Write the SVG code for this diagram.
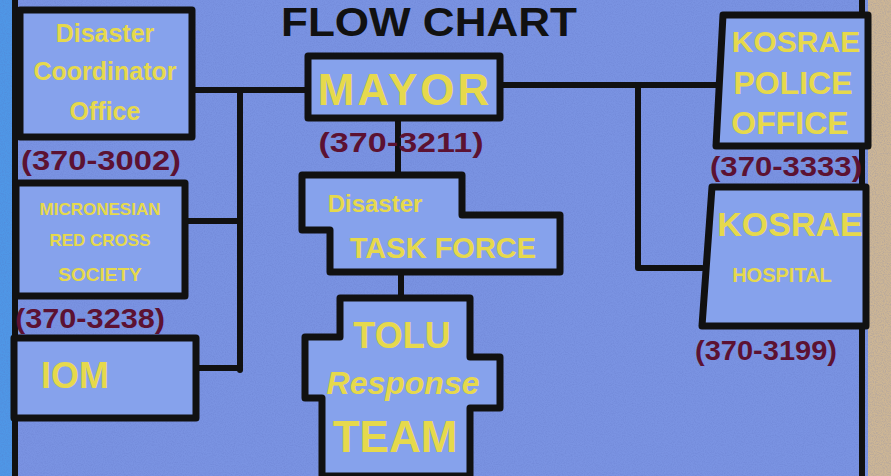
<svg xmlns="http://www.w3.org/2000/svg" width="891" height="476" viewBox="0 0 891 476">
<style>
.box{fill:#86a2ec;stroke:#111;stroke-width:7;stroke-linejoin:round}
.ln{fill:none;stroke:#111;stroke-width:6;stroke-linecap:round;stroke-linejoin:round}
.t{fill:#e6d94c;font-family:"Liberation Sans",Arial,sans-serif;font-weight:bold;text-anchor:middle}
.p{fill:#5c1232;font-family:"Liberation Sans",Arial,sans-serif;font-weight:bold;text-anchor:middle;font-size:27px}
.title{fill:#111;font-family:"Liberation Sans",Arial,sans-serif;font-weight:bold;font-size:40px;text-anchor:middle}
</style>
<defs>
<filter id="noise" x="0" y="0" width="100%" height="100%">
<feTurbulence type="fractalNoise" baseFrequency="0.9" numOctaves="2" seed="3"/>
<feColorMatrix type="matrix" values="0 0 0 0 0.1  0 0 0 0 0.15  0 0 0 0 0.5  0 0 0 -1.2 0.75"/>
</filter>
</defs>
<rect width="891" height="476" fill="#7a93e2"/>
<rect x="0" y="0" width="13" height="476" fill="#4f97e6"/>
<rect x="868" y="0" width="23" height="476" fill="#cdb695"/>
<rect width="891" height="476" filter="url(#noise)" opacity="0.35"/>
<text class="title" x="429" y="36" textLength="296" lengthAdjust="spacingAndGlyphs">FLOW CHART</text>
<path class="ln" d="M15 0 V476"/>
<path class="ln" d="M862 0 V476"/>
<g id="connectors">
<path class="ln" d="M192 90 H310"/>
<path class="ln" d="M240 90 V370"/>
<path class="ln" d="M186 221 H240"/>
<path class="ln" d="M196 368 H240"/>
<path class="ln" d="M398 118 V173"/>
<path class="ln" d="M401 270 V298"/>
<path class="ln" d="M500 85 H718"/>
<path class="ln" d="M638 85 V268 H702"/>
</g>
<g id="coordinator">
<path class="box" d="M20 10 H192 V137 H20 Z"/>
<text class="t" x="105" y="42" font-size="25">Disaster</text>
<text class="t" x="105" y="80" font-size="25">Coordinator</text>
<text class="t" x="105" y="120" font-size="25">Office</text>
<text class="p" x="101" y="170" textLength="160" lengthAdjust="spacingAndGlyphs">(370-3002)</text>
</g>
<g id="redcross">
<path class="box" d="M16 183 H185 V296 H16 Z"/>
<text class="t" x="100" y="215" font-size="17">MICRONESIAN</text>
<text class="t" x="100" y="246" font-size="17">RED CROSS</text>
<text class="t" x="100" y="281" font-size="19">SOCIETY</text>
<text class="p" x="90" y="328" textLength="150" lengthAdjust="spacingAndGlyphs">(370-3238)</text>
</g>
<g id="iom">
<path class="box" d="M14 338 H196 V418 H14 Z"/>
<text class="t" x="75" y="388" font-size="36">IOM</text>
</g>
<g id="mayor">
<path class="box" d="M308 56 H500 V118 H308 Z"/>
<text class="t" x="405" y="105" font-size="44" letter-spacing="3">MAYOR</text>
<text class="p" x="401" y="152" textLength="165" lengthAdjust="spacingAndGlyphs">(370-3211)</text>
</g>
<g id="taskforce">
<path class="box" d="M302 175 H462 V215 H560 V272 H330 V230 H302 Z"/>
<text class="t" x="375" y="212" font-size="24">Disaster</text>
<text class="t" x="443" y="258" font-size="29">TASK FORCE</text>
</g>
<g id="tolu">
<path class="box" d="M340 298 H470 V357 H500 V408 H470 V476 H322 V398 H305 V337 H340 Z"/>
<text class="t" x="402" y="348" font-size="36">TOLU</text>
<text class="t" x="403" y="394" font-size="32" font-style="italic">Response</text>
<text class="t" x="395" y="452" font-size="44">TEAM</text>
</g>
<g id="police">
<path class="box" d="M723 15 H868 V146 H716 Z"/>
<text class="t" x="796" y="52" font-size="30">KOSRAE</text>
<text class="t" x="793" y="94" font-size="32">POLICE</text>
<text class="t" x="790" y="134" font-size="32">OFFICE</text>
<text class="p" x="786" y="176" textLength="152" lengthAdjust="spacingAndGlyphs">(370-3333)</text>
</g>
<g id="hospital">
<path class="box" d="M712 187 H866 V326 H702 Z"/>
<text class="t" x="790" y="236" font-size="34">KOSRAE</text>
<text class="t" x="782" y="282" font-size="20">HOSPITAL</text>
<text class="p" x="766" y="360" textLength="142" lengthAdjust="spacingAndGlyphs">(370-3199)</text>
</g>
</svg>
